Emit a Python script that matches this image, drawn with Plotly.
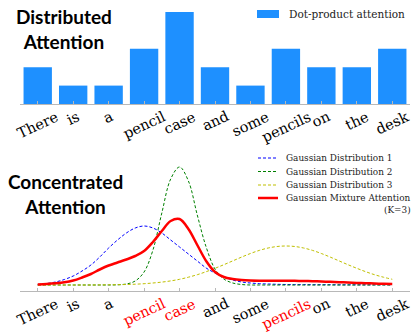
import plotly.graph_objects as go

W, H = 415, 333

# sentence shown under both panels
words = ["There", "is", "a", "pencil", "case", "and", "some", "pencils", "on", "the", "desk"]
red_words = ["pencil", "case", "pencils"]

# top panel: dot-product attention weights
dot_attention = [2, 1, 1, 3, 5, 2, 1, 3, 2, 2, 3]

# bottom panel: curves at quarter-word steps
pos = [i * 0.25 for i in range(41)]
gauss1 = [0.5, 1.5, 3, 5.5, 9, 14, 20, 28, 37, 45, 52, 57, 59, 57, 52, 45, 38, 31, 24, 17,
          12, 8, 5, 3, 2, 1.3, 1, 0.7, 0.5, 0.4, 0.4, 0.3, 0.3, 0.3, 0.2, 0.2, 0.2, 0.2, 0.2, 0.2, 0.2]
gauss2 = [0, 0, 0, 0, 0, 0, 0, 0, 0, 0.2, 1, 4, 13, 35, 72, 106, 118, 104, 70, 38,
          16, 6, 2, 0.5, 0, 0, 0, 0, 0, 0, 0, 0, 0, 0, 0, 0, 0, 0, 0, 0, 0]
gauss3 = [0, 0, 0, 0, 0, 0, 0, 0.1, 0.2, 0.3, 0.5, 0.8, 1.3, 2, 2.9, 4.1, 5.7, 7.8, 10.3, 13.3,
          16.7, 20.3, 24.1, 27.9, 31.5, 34.6, 37, 38.5, 39, 38.5, 37, 34.6, 31.5, 27.9, 24.1, 20.3,
          16.7, 13.3, 10.3, 7.8, 5.7]
mixture = [0.5, 1, 1.7, 2.7, 4.5, 7.5, 11, 15.5, 19.5, 22.5, 25.5, 29, 34, 43, 54, 64, 66, 56, 40, 24,
           13, 8, 6, 5, 4.5, 4.3, 4.3, 4.3, 4.3, 4.2, 4, 3.8, 3.5, 3.2, 2.8, 2.5, 2.1, 1.8, 1.5, 1.2, 1]

curves = [
    ("Gaussian Distribution 1", gauss1, "#0000ff"),
    ("Gaussian Distribution 2", gauss2, "#008000"),
    ("Gaussian Distribution 3", gauss3, "#bfbf00"),
]


def px(x):
    return x / W


def py(y):
    return 1 - y / H


SERIF = "DejaVu Serif"
TITLE_FONT = "Lato"
BAR_BLUE = "#1e90ff"

fig = go.Figure()

fig.add_trace(go.Bar(x=list(range(len(words))), y=dot_attention, width=0.8,
                     marker=dict(color=BAR_BLUE, line=dict(width=0)),
                     xaxis="x", yaxis="y", showlegend=False))

for name, vals, col in curves:
    fig.add_trace(go.Scatter(x=pos, y=vals, mode="lines", name=name, line_shape="spline",
                             line=dict(color=col, width=1, dash="3px,2px"),
                             xaxis="x2", yaxis="y2", showlegend=False))
fig.add_trace(go.Scatter(x=pos, y=mixture, mode="lines", name="Gaussian Mixture Attention",
                         line_shape="spline", line=dict(color="#ff0000", width=2.5),
                         xaxis="x2", yaxis="y2", showlegend=False))

axis_common = dict(range=[-0.5, 10.5], domain=[px(20), px(410)], showgrid=False, zeroline=False,
                   showticklabels=False, showline=True, linecolor="#b8b8b8", linewidth=1,
                   ticks="inside", ticklen=3, tickcolor="#b8b8b8", tickvals=list(range(len(words))))
fig.update_layout(
    xaxis=dict(anchor="y", **axis_common),
    xaxis2=dict(anchor="y2", **axis_common),
    yaxis=dict(range=[0, 5], domain=[py(104), py(12)], visible=False),
    yaxis2=dict(range=[-6, 125], domain=[py(291), py(160)], visible=False),
)

ann = []
# word labels under each panel
for xref, base, colored in (("x", 104, False), ("x2", 291, True)):
    for i, w in enumerate(words):
        col = "#ff0000" if colored and w in red_words else "#000000"
        ann.append(dict(x=i, xref=xref, y=py(base + 3), yref="paper", text=w, showarrow=False,
                        xanchor="center", yanchor="top", textangle=-25, borderpad=0,
                        font=dict(family=SERIF, size=14.5, color=col)))

# panel titles
ann.append(dict(x=px(64), y=py(3), xref="paper", yref="paper", text="<b>Distributed<br>Attention</b>",
                showarrow=False, xanchor="center", yanchor="top", align="center",
                font=dict(family=TITLE_FONT, size=19, color="#000000")))
ann.append(dict(x=px(65), y=py(168), xref="paper", yref="paper", text="<b>Concentrated<br>Attention</b>",
                showarrow=False, xanchor="center", yanchor="top", align="center",
                font=dict(family=TITLE_FONT, size=19, color="#000000")))

# legends, drawn by hand so the row spacing matches
shapes = [dict(type="rect", xref="paper", yref="paper", x0=px(257), x1=px(279), y0=py(18), y1=py(10),
               fillcolor=BAR_BLUE, line=dict(width=0))]
ann.append(dict(x=px(287), y=py(14), xref="paper", yref="paper", text="Dot-product attention",
                showarrow=False, xanchor="left", yanchor="middle",
                font=dict(family=SERIF, size=10.5, color="#222222")))

rows = [158, 171.5, 185, 198]
styles = [(c[2], 1, "3px,2px") for c in curves] + [("#ff0000", 2.5, "solid")]
labels = [c[0] for c in curves] + ["Gaussian Mixture Attention"]
for ry, (col, lw, dash), lab in zip(rows, styles, labels):
    shapes.append(dict(type="line", xref="paper", yref="paper", x0=px(258), x1=px(278), y0=py(ry), y1=py(ry),
                       line=dict(color=col, width=lw, dash=dash)))
    ann.append(dict(x=px(284), y=py(ry), xref="paper", yref="paper", text=lab, showarrow=False,
                    xanchor="left", yanchor="middle", font=dict(family=SERIF, size=8.9, color="#222222")))
ann.append(dict(x=px(413), y=py(210), xref="paper", yref="paper", text="(K=3)", showarrow=False,
                xanchor="right", yanchor="middle", font=dict(family=SERIF, size=8.9, color="#222222")))

fig.update_layout(width=W, height=H, margin=dict(l=0, r=0, t=0, b=0),
                  paper_bgcolor="white", plot_bgcolor="white",
                  annotations=ann, shapes=shapes, showlegend=False)

# the page's default body margin would push the 415x333 figure out of the window
fig.write_html("out.html", config={"displayModeBar": False},
               post_script="document.body.style.margin='0';")
